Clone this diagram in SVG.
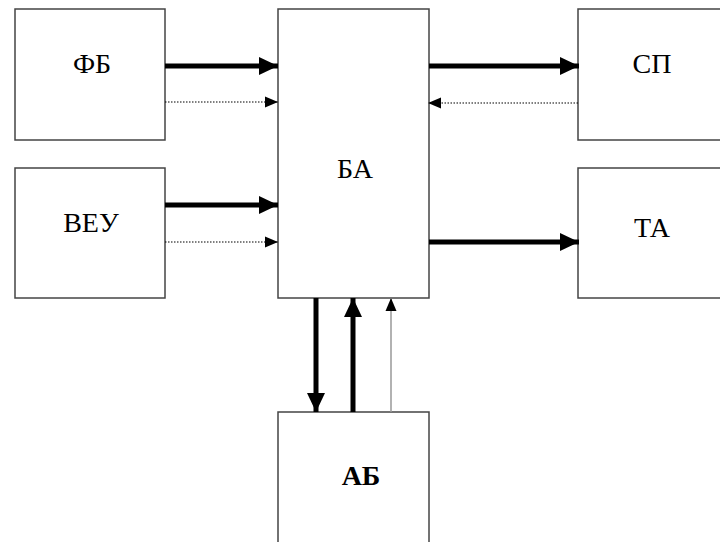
<svg xmlns="http://www.w3.org/2000/svg" width="720" height="542" viewBox="0 0 720 542">
<style>
.box{fill:#fff;stroke:#444;stroke-width:1.5}
.lbl{font-family:"Liberation Serif","Times New Roman",serif;font-size:28px;fill:#000;text-anchor:middle}
.thick{stroke:#000;stroke-width:5;fill:none}
.dot{stroke:#000;stroke-width:1.2;stroke-dasharray:1.5 1.5;fill:none}
.gray{stroke:#999;stroke-width:1.5;fill:none}
</style>
<defs>
<marker id="ah" markerUnits="userSpaceOnUse" markerWidth="20" markerHeight="20" viewBox="0 0 20 20" refX="19" refY="10" orient="auto"><path d="M0,1 L19,10 L0,19 Z" fill="#000"/></marker>
<marker id="as" markerUnits="userSpaceOnUse" markerWidth="14" markerHeight="14" viewBox="0 0 14 14" refX="13" refY="7" orient="auto"><path d="M0,1.5 L13,7 L0,12.5 Z" fill="#000"/></marker>
</defs>
<g id="node-fb"><rect class="box" x="15" y="9" width="150" height="131"/><text class="lbl" x="92" y="73">ФБ</text></g>
<g id="node-veu"><rect class="box" x="15" y="168" width="150" height="130"/><text class="lbl" x="91" y="232">ВЕУ</text></g>
<g id="node-ba"><rect class="box" x="278" y="9" width="151" height="289"/><text class="lbl" x="355" y="178">БА</text></g>
<g id="node-sp"><rect class="box" x="578" y="9" width="150" height="131"/><text class="lbl" x="652" y="73">СП</text></g>
<g id="node-ta"><rect class="box" x="578" y="168" width="150" height="130"/><text class="lbl" x="652" y="237">ТА</text></g>
<g id="node-ab"><rect class="box" x="278" y="412" width="151" height="140"/><text class="lbl" x="361" y="485" font-weight="bold" font-size="33">АБ</text></g>
<g id="connectors">
<line class="thick" x1="165" y1="66" x2="278" y2="66" marker-end="url(#ah)"/>
<line class="dot" x1="165" y1="102" x2="278" y2="102" marker-end="url(#as)"/>
<line class="thick" x1="165" y1="205" x2="278" y2="205" marker-end="url(#ah)"/>
<line class="dot" x1="165" y1="242" x2="278" y2="242" marker-end="url(#as)"/>
<line class="thick" x1="429" y1="66" x2="579" y2="66" marker-end="url(#ah)"/>
<line class="dot" x1="578" y1="103" x2="428" y2="103" marker-end="url(#as)"/>
<line class="thick" x1="429" y1="242" x2="579" y2="242" marker-end="url(#ah)"/>
<line class="thick" x1="316" y1="298" x2="316" y2="412" marker-end="url(#ah)"/>
<line class="thick" x1="353" y1="412" x2="353" y2="298" marker-end="url(#ah)"/>
<line class="gray" x1="391" y1="412" x2="391" y2="298" marker-end="url(#as)"/>
</g>
</svg>
